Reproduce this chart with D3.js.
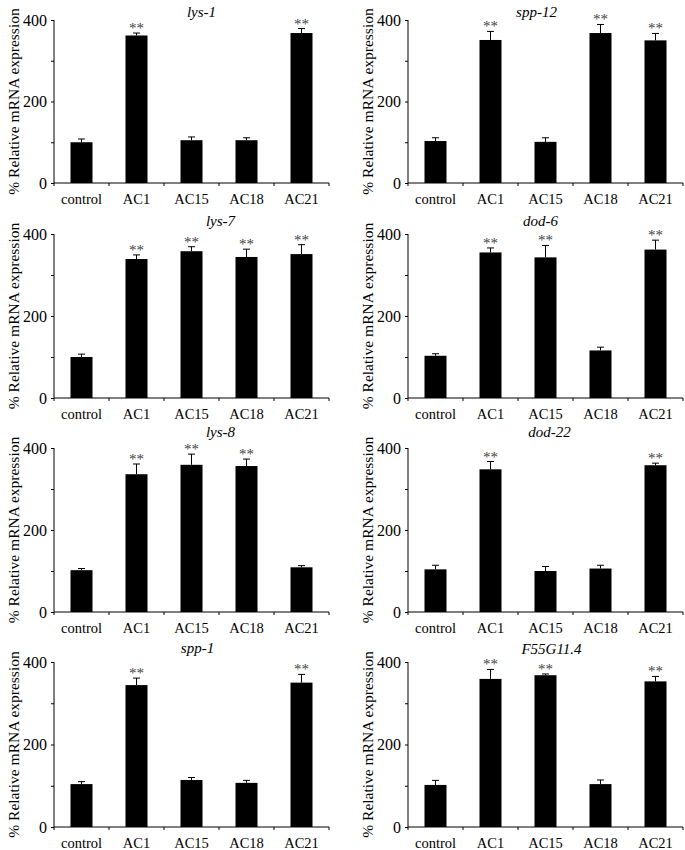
<!DOCTYPE html>
<html><head><meta charset="utf-8">
<script src="https://cdn.jsdelivr.net/npm/d3@7"></script>
<style>body{margin:0;background:#fff}svg{display:block}</style>
</head><body>
<svg id="c" width="685" height="850"></svg>
<script>
const categories = ["control","AC1","AC15","AC18","AC21"];
const genes = ["lys-1","spp-12","lys-7","dod-6","lys-8","dod-22","spp-1","F55G11.4"];
const yTicks = [0,100,200,300,400];
const yTickLabels = ["0","","200","","400"];
const means_lys1   = [100,362,105,105,368];
const errs_lys1    = [8,6,8,6,11];
const sig_lys1     = [0,1,0,0,1];
const means_spp12  = [103,351,101,368,350];
const errs_spp12   = [8,21,10,21,17];
const sig_spp12    = [0,1,0,1,1];
const means_lys7   = [100,339,358,344,351];
const errs_lys7    = [7,10,11,19,23];
const sig_lys7     = [0,1,1,1,1];
const means_dod6   = [103,355,343,116,362];
const errs_dod6    = [5,11,29,8,23];
const sig_dod6     = [0,1,1,0,1];
const means_lys8   = [102,336,359,356,109];
const errs_lys8    = [4,25,26,17,4];
const sig_lys8     = [0,1,1,1,0];
const means_dod22  = [104,348,100,106,358];
const errs_dod22   = [10,19,11,8,5];
const sig_dod22    = [0,1,0,0,1];
const means_spp1   = [104,344,114,107,350];
const errs_spp1    = [6,17,6,6,20];
const sig_spp1     = [0,1,0,0,1];
const means_f55    = [102,359,368,104,353];
const errs_f55     = [11,23,3,10,12];
const sig_f55      = [0,1,1,0,1];
const yLabel = "% Relative mRNA expression";

const allMeans = [means_lys1,means_spp12,means_lys7,means_dod6,means_lys8,means_dod22,means_spp1,means_f55];
const allErrs  = [errs_lys1,errs_spp12,errs_lys7,errs_dod6,errs_lys8,errs_dod22,errs_spp1,errs_f55];
const allSig   = [sig_lys1,sig_spp12,sig_lys7,sig_dod6,sig_lys8,sig_dod22,sig_spp1,sig_f55];

// layout
const colX = [54, 408];
const rowTop = [20, 234, 448, 662];
const rowBot = [183, 398, 612, 827];
const plotW = 275;
const titleDx = [10, -9, 29, -5, 29, 4, 6, 6];
const titleBase = [17, 16.5, 225.5, 226, 436.5, 437, 652.5, 654];

const svg = d3.select("#c");
const FONT = "'Liberation Serif','Times New Roman',serif";

genes.forEach((g, i) => {
  const col = i % 2, row = Math.floor(i / 2);
  const x0 = colX[col];
  const x = d3.scaleBand().domain(categories).range([x0, x0 + plotW]).paddingInner(0.6).paddingOuter(0.3);
  const y = d3.scaleLinear().domain([0, 400]).range([rowBot[row], rowTop[row]]);
  const gp = svg.append("g");
  const data = categories.map((c, k) => ({c, m: allMeans[i][k], e: allErrs[i][k], s: allSig[i][k]}));

  // bars
  gp.selectAll("rect.bar").data(data).join("rect")
    .attr("x", d => x(d.c)).attr("width", x.bandwidth())
    .attr("y", d => y(d.m)).attr("height", d => y(0) - y(d.m))
    .attr("fill", "#000");

  // error bars
  const cap = 3.5;
  gp.selectAll("line.eb").data(data).join("line")
    .attr("x1", d => x(d.c) + x.bandwidth()/2).attr("x2", d => x(d.c) + x.bandwidth()/2)
    .attr("y1", d => y(d.m)).attr("y2", d => y(d.m + d.e))
    .attr("stroke", "#000").attr("stroke-width", 1);
  gp.selectAll("line.cap").data(data).join("line")
    .attr("x1", d => x(d.c) + x.bandwidth()/2 - cap).attr("x2", d => x(d.c) + x.bandwidth()/2 + cap)
    .attr("y1", d => y(d.m + d.e)).attr("y2", d => y(d.m + d.e))
    .attr("stroke", "#000").attr("stroke-width", 1);

  // significance
  gp.selectAll("text.sig").data(data.filter(d => d.s)).join("text")
    .attr("x", d => x(d.c) + x.bandwidth()/2)
    .attr("y", d => y(d.m + d.e))
    .attr("text-anchor", "middle")
    .attr("font-family", FONT).attr("font-size", 15).attr("fill", "#444")
    .text("**");

  // y axis
  const ya = d3.axisLeft(y).tickValues(yTicks).tickSize(3).tickPadding(4)
    .tickFormat((d, k) => yTickLabels[k]);
  const yg = gp.append("g").attr("transform", `translate(${x0},0)`).call(ya);
  yg.select(".domain").attr("d", `M0,${y(0)}V${y(400)}`).attr("stroke", "#000");
  yg.selectAll(".tick line").attr("stroke", "#000");
  yg.selectAll(".tick text").attr("font-family", FONT).attr("font-size", 16).attr("fill", "#000");

  // x axis
  const xa = d3.axisBottom(x).tickSize(0).tickPadding(0);
  const xg = gp.append("g").attr("transform", `translate(0,${y(0)})`).call(xa);
  xg.select(".domain").attr("d", `M${x0},0H${x0 + plotW}`).attr("stroke", "#000");
  xg.selectAll(".tick text").attr("font-family", FONT).attr("font-size", 14.5).attr("fill", "#000")
    .attr("dy", null).attr("y", 21);
  // tick marks at band boundaries
  const bounds = d3.range(categories.length + 1).map(k => x0 + k * x.step());
  xg.selectAll("line.bt").data(bounds).join("line")
    .attr("x1", d => d).attr("x2", d => d).attr("y1", 0).attr("y2", 3)
    .attr("stroke", "#000");

  // y label
  gp.append("text")
    .attr("transform", `translate(${x0 - 41},${(y(0) + y(400)) / 2}) rotate(-90)`)
    .attr("text-anchor", "middle").attr("dominant-baseline", "central")
    .attr("font-family", FONT).attr("font-size", 15.5).attr("fill", "#000")
    .text(yLabel);

  // title
  gp.append("text")
    .attr("x", x0 + plotW / 2 + titleDx[i]).attr("y", titleBase[i])
    .attr("text-anchor", "middle").attr("font-style", "italic")
    .attr("font-family", FONT).attr("font-size", 15).attr("fill", "#000")
    .text(g);
});
</script>
</body></html>
